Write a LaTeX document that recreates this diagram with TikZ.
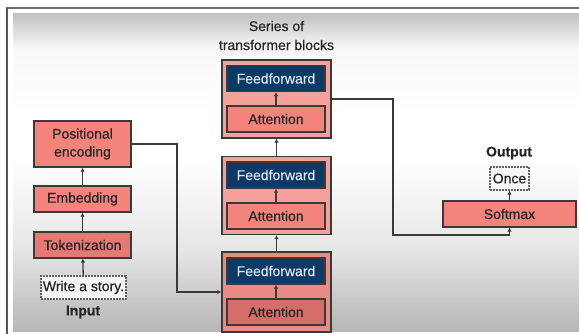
\documentclass[tikz,border=0pt]{standalone}
\usepackage{fontspec}
\setmainfont{Liberation Sans}[FakeBold=0.5]
\usetikzlibrary{arrows.meta,calc}

\definecolor{frameline}{HTML}{6E6E6E}
\definecolor{edge}{HTML}{3A3A3A}
\definecolor{ink}{HTML}{262626}
\definecolor{salmon}{HTML}{F2847C}
\definecolor{salmondark}{HTML}{E47A73}
\definecolor{salmondeep}{HTML}{D56E69}
\definecolor{blockfill}{HTML}{F5A09A}
\definecolor{blockfilldark}{HTML}{E98C86}
\definecolor{navy}{HTML}{0B3A66}
\definecolor{navytext}{HTML}{DCE6F2}
\definecolor{bgtop}{HTML}{C2C2C2}
\definecolor{bgbottom}{HTML}{B6B6B6}

\tikzset{
  base/.style={draw=edge, line width=1.3pt, text=ink, inner sep=0pt,
    font=\fontsize{14}{18}\selectfont, align=center},
  box/.style={base, fill=salmon, minimum width=97pt, minimum height=26pt},
  block/.style={base, fill=blockfill, minimum width=109pt, minimum height=78pt},
  ffbox/.style={base, fill=navy, text=navytext, minimum width=98pt, minimum height=26pt},
  attbox/.style={base, fill=salmon, minimum width=98pt, minimum height=26pt},
  dotbox/.style={base, draw=edge!80, line width=1.1pt, dash pattern=on 1.6pt off 1.4pt,
    fill=white!96!black},
  caption/.style={text=ink, inner sep=0pt, font=\fontsize{14}{19}\selectfont, align=center},
  flow/.style={draw=edge, line width=1.3pt, -{Latex[length=4pt,width=4.5pt]}},
}

\begin{document}
\begin{tikzpicture}[x=1pt,y=-1pt]
\useasboundingbox (0,0) rectangle (579,334);

% screen background with its soft vertical gradient
\fill[white] (0,0) rectangle (579,334);
\fill[top color=bgtop, bottom color=white!97!black] (13,14) rectangle (579,48);
\fill[top color=white!97!black, bottom color=white] (13,48) rectangle (579,110);
\fill[white] (13,110) rectangle (579,160);
\fill[top color=white, bottom color=white!90!black] (13,160) rectangle (579,250);
\fill[top color=white!90!black, bottom color=bgbottom] (13,250) rectangle (579,331);
\draw[frameline, line width=2pt] (6,8.5) -- (579,8.5);
\draw[frameline!80!black, line width=1.5pt] (7,8) -- (7,334);

% input side
\node[box, minimum height=46pt] (pos) at (82.5,144) {Positional\\encoding};
\node[box] (emb) at (82.5,199) {Embedding};
\node[box, fill=salmondark] (tok) at (82.5,245) {Tokenization};
\node[dotbox, minimum width=85pt, minimum height=23pt] (story) at (83.5,287.5) {Write a story.};
\node[caption, font=\fontsize{14}{19}\selectfont\bfseries] (inlabel) at (83,312) {Input};

% stack of transformer blocks
\node[caption] (series) at (276.5,35.5) {Series of\\transformer blocks};

\node[block] (b3) at (276.5,99) {};
\node[ffbox] (ff3) at (276,78.5) {Feedforward};
\node[attbox] (at3) at (276,119) {Attention};

\node[block] (b2) at (276.5,195.5) {};
\node[ffbox] (ff2) at (276,175) {Feedforward};
\node[attbox] (at2) at (276,216) {Attention};

\node[block, fill=blockfilldark, minimum height=80pt] (b1) at (276.5,292) {};
\node[ffbox] (ff1) at (276,271) {Feedforward};
\node[attbox, fill=salmondeep] (at1) at (276,312) {Attention};

% output side
\node[box, minimum width=133pt] (sm) at (509.5,214) {Softmax};
\node[dotbox, minimum width=39pt, minimum height=23pt] (once) at (509.5,178.5) {Once};
\node[caption, font=\fontsize{14}{19}\selectfont\bfseries] (outlabel) at (509,153) {Output};

% connectors
\draw[flow] (story) -- (tok);
\draw[flow] (tok) -- (emb);
\draw[flow] (emb) -- (pos);
\draw[flow] (at1) -- (ff1);
\draw[flow] (at2) -- (ff2);
\draw[flow] (at3) -- (ff3);
\draw[flow] (b1) -- (b2);
\draw[flow] (b2) -- (b3);
\draw[flow] (sm) -- (once);

\coordinate (leftbend) at (177,0);
\draw[flow] (pos.east) -| (leftbend |- pos.east) |- (b1.west);

\coordinate (rightbend) at (393,235);
\draw[flow] (b3.east) -| (rightbend) -| (sm.south);
\end{tikzpicture}
\end{document}
